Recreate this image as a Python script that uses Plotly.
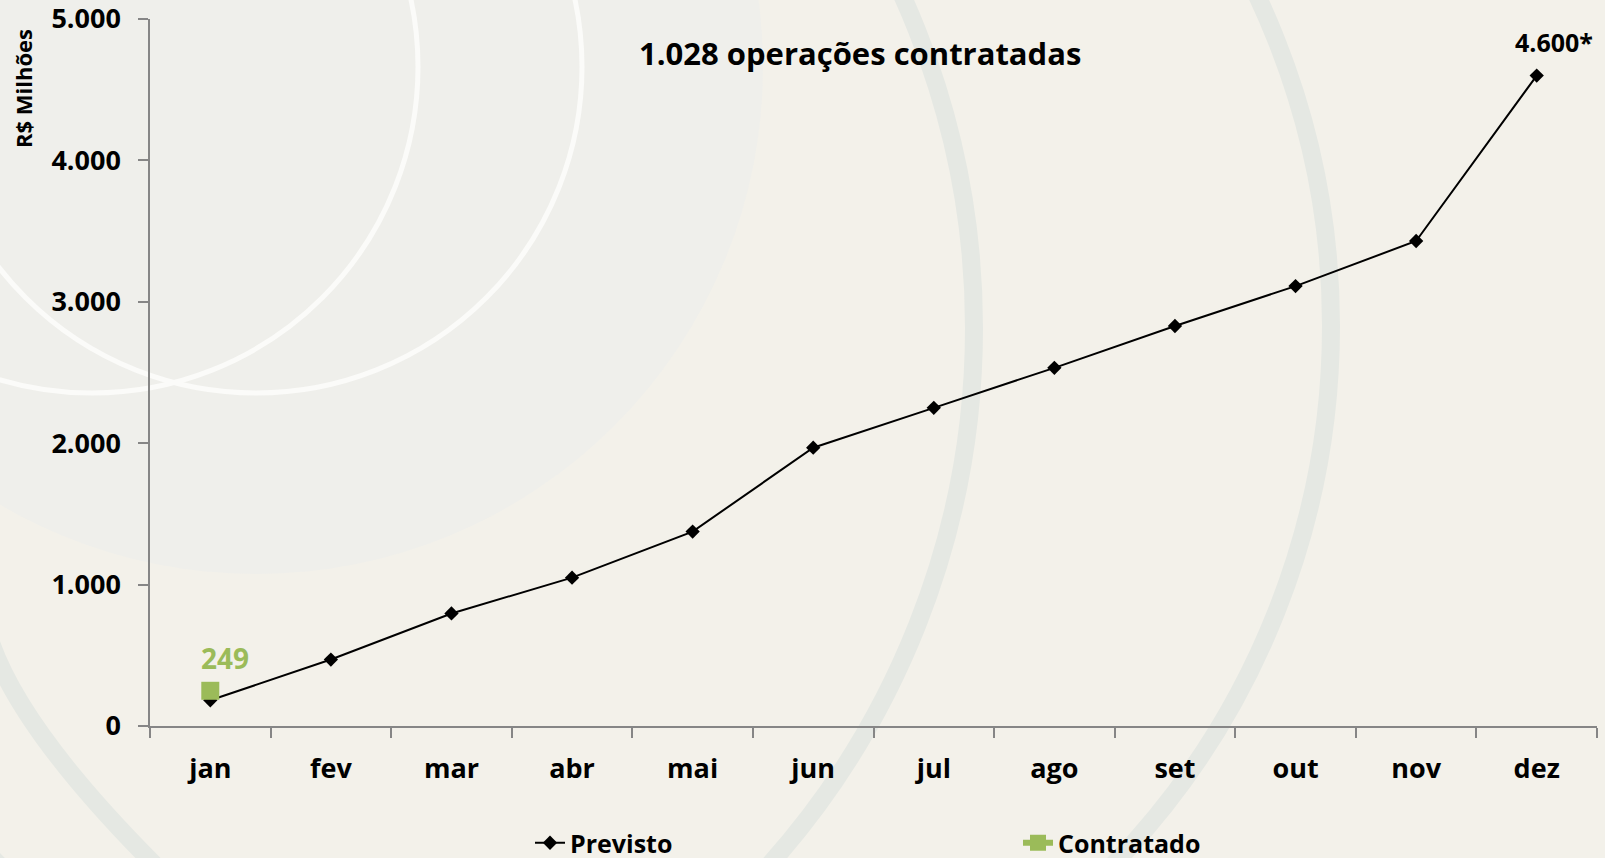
import plotly.graph_objects as go

# data
meses = ["jan", "fev", "mar", "abr", "mai", "jun", "jul", "ago", "set", "out", "nov", "dez"]
previsto = [182, 470, 796, 1049, 1375, 1968, 2250, 2533, 2829, 3111, 3430, 4600]
contratado_meses = ["jan"]
contratado = [249]
y_ticks = [0, 1000, 2000, 3000, 4000, 5000]

W, H = 1605, 858
ML, MR, MT, MB = 150, 8, 19, 132
PW = W - ML - MR
PH = H - MT - MB

VERDE = "#9BBB59"
EIXO = "#868686"
ANEL = "#E5E8E3"
FONTE = "Open Sans"


def px_x(x):
    return (x - ML) / PW


def px_y(y):
    return (H - MB - y) / PH


def circulo(cx, cy, r, **kw):
    return dict(
        type="circle", xref="paper", yref="paper", layer="below",
        x0=px_x(cx - r), x1=px_x(cx + r), y0=px_y(cy + r), y1=px_y(cy - r), **kw
    )


fmt = lambda v: f"{v:,}".replace(",", ".")

fig = go.Figure()

fig.add_trace(
    go.Scatter(
        x=meses,
        y=previsto,
        mode="lines+markers",
        name="Previsto",
        line=dict(color="black", width=2),
        marker=dict(symbol="diamond", size=11, color="black"),
    )
)

fig.add_trace(
    go.Scatter(
        x=contratado_meses,
        y=contratado,
        mode="lines+markers",
        name="Contratado",
        line=dict(color=VERDE, width=6),
        marker=dict(symbol="square", size=18, color=VERDE),
    )
)

# background decoration (slide artwork)
shapes = [
    circulo(256, 67, 507, fillcolor="#EFEFEB", line=dict(width=0)),
    circulo(256, 67, 326, line=dict(color="#FBFBF9", width=5)),
    circulo(92, 67, 326, line=dict(color="#FBFBF9", width=5)),
    circulo(168, 328, 806, line=dict(color=ANEL, width=18)),
    circulo(556, 326, 775, line=dict(color=ANEL, width=18)),
    dict(
        type="path", xref="paper", yref="paper", layer="below",
        path=f"M {px_x(-10)},{px_y(640)} Q {px_x(22)},{px_y(735)} {px_x(170)},{px_y(880)}",
        line=dict(color=ANEL, width=18),
    ),
]

annotations = [
    dict(
        x=contratado_meses[0], y=contratado[0], text=fmt(contratado[0]),
        showarrow=False, xshift=15, yshift=33,
        xanchor="center", yanchor="middle",
        font=dict(family=FONTE, size=28, color=VERDE, weight="bold"),
    ),
    dict(
        x=meses[-1], y=previsto[-1], text=fmt(previsto[-1]) + "*",
        showarrow=False, xshift=17, yshift=34,
        xanchor="center", yanchor="middle",
        font=dict(family=FONTE, size=25, color="black", weight="bold"),
    ),
    dict(
        x=px_x(860), y=px_y(53), xref="paper", yref="paper",
        xanchor="center", yanchor="middle",
        text="1.028 operações contratadas", showarrow=False,
        font=dict(family=FONTE, size=31, color="black", weight="bold"),
    ),
    dict(
        x=px_x(23), y=px_y(89), xref="paper", yref="paper",
        xanchor="center", yanchor="middle",
        text="R$ Milhões", textangle=-90, showarrow=False,
        font=dict(family=FONTE, size=22, color="black", weight="bold"),
    ),
]

fig.update_layout(
    width=W,
    height=H,
    template="none",
    margin=dict(l=ML, r=MR, t=MT, b=MB, autoexpand=False),
    paper_bgcolor="#F3F1EA",
    plot_bgcolor="rgba(0,0,0,0)",
    font=dict(family=FONTE, size=26, color="black", weight="bold"),
    separators=",.",
    shapes=shapes,
    annotations=annotations,
    showlegend=True,
    legend=dict(
        orientation="h",
        x=px_x(530),
        xanchor="left",
        y=px_y(843),
        yanchor="middle",
        entrywidth=443,
        entrywidthmode="pixels",
        font=dict(family=FONTE, size=25, color="black", weight="bold"),
        bgcolor="rgba(0,0,0,0)",
    ),
    xaxis=dict(
        type="category",
        range=[-0.5, len(meses) - 0.5],
        tickson="boundaries",
        ticks="outside",
        ticklen=10,
        tickwidth=1.5,
        tickcolor=EIXO,
        showline=True,
        linecolor=EIXO,
        linewidth=1.5,
        showgrid=False,
        zeroline=False,
        automargin=False,
        ticklabelstandoff=18,
        tickfont=dict(size=27),
    ),
    yaxis=dict(
        range=[0, 5000],
        tickvals=y_ticks,
        tickformat=",d",
        ticks="outside",
        ticklen=10,
        tickwidth=1.5,
        tickcolor=EIXO,
        showline=True,
        linecolor=EIXO,
        linewidth=1.5,
        showgrid=False,
        zeroline=False,
        automargin=False,
        ticklabeloverflow="allow",
        ticklabelstandoff=12,
        tickfont=dict(size=27),
    ),
)

# the page has a default 8px body margin; drop it so the figure fills the window
fig.write_html(
    "out.html",
    config={"displayModeBar": False},
    post_script="document.body.style.margin = '0px';",
)
